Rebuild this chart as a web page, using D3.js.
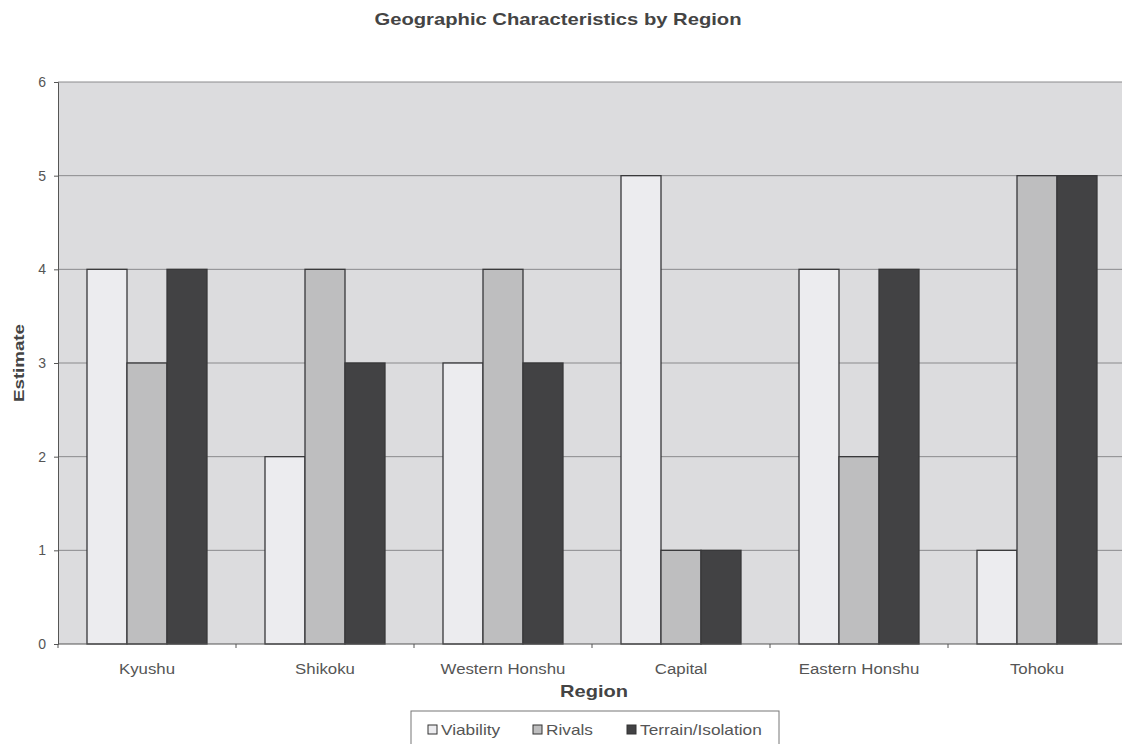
<!DOCTYPE html>
<html>
<head>
<meta charset="utf-8">
<script src="https://cdn.jsdelivr.net/npm/d3@7/dist/d3.min.js"></script>
<style>
  html, body { margin: 0; padding: 0; background: #ffffff; }
  svg { display: block; font-family: Arial, "Liberation Sans", sans-serif; }
</style>
</head>
<body>
<svg id="chart" width="1122" height="744"></svg>
<script>
// Regions and per-series estimates
const regions = ["Kyushu", "Shikoku", "Western Honshu", "Capital", "Eastern Honshu", "Tohoku"];
const seriesNames = ["Viability", "Rivals", "Terrain/Isolation"];
const viability = [4, 2, 3, 5, 4, 1];
const rivals = [3, 4, 4, 1, 2, 5];
const terrain = [4, 3, 3, 1, 4, 5];
const yTicks = [0, 1, 2, 3, 4, 5, 6];

const seriesValues = [viability, rivals, terrain];
const seriesFill = ["#ececef", "#bebebf", "#424244"];

const svg = d3.select("#chart");
const margin = { left: 58, right: -4, top: 82, bottom: 100 };
const W = 1122, H = 744;
const plotL = margin.left, plotR = W - margin.right;
const plotT = margin.top, plotB = H - margin.bottom;

// Widen text glyphs by a factor (the chart uses a broad sans face)
function widen(sel, factor) {
  sel.each(function () {
    const len = this.getComputedTextLength();
    d3.select(this).attr("textLength", len * factor).attr("lengthAdjust", "spacingAndGlyphs");
  });
}

const x = d3.scaleBand().domain(regions).range([plotL, plotR]).paddingInner(0).paddingOuter(0);
const xs = d3.scaleBand().domain(seriesNames).range([0, x.bandwidth()]).paddingOuter(0.725).paddingInner(0);
const y = d3.scaleLinear().domain([0, 6]).range([plotB, plotT]);

// Plot background
svg.append("rect")
  .attr("x", plotL).attr("y", plotT)
  .attr("width", plotR - plotL).attr("height", plotB - plotT)
  .attr("fill", "#dcdcde");

// Horizontal gridlines
svg.append("g")
  .selectAll("line")
  .data(yTicks.filter(d => d > 0))
  .join("line")
  .attr("x1", plotL).attr("x2", plotR)
  .attr("y1", d => y(d)).attr("y2", d => y(d))
  .attr("stroke", "#8a8a8c").attr("stroke-width", 1);

// Bars
const groups = svg.append("g")
  .selectAll("g")
  .data(regions)
  .join("g")
  .attr("transform", d => `translate(${x(d)},0)`);

groups.selectAll("rect")
  .data((r, i) => seriesNames.map((s, k) => ({ s, k, v: seriesValues[k][i] })))
  .join("rect")
  .attr("x", d => xs(d.s))
  .attr("y", d => y(d.v))
  .attr("width", xs.bandwidth())
  .attr("height", d => y(0) - y(d.v))
  .attr("fill", d => seriesFill[d.k])
  .attr("stroke", "#38383a")
  .attr("stroke-width", 1.3);

// Y axis
const yAxis = svg.append("g")
  .attr("transform", `translate(${plotL},0)`)
  .call(d3.axisLeft(y).tickValues(yTicks).tickFormat(d3.format("d")).tickSize(4).tickPadding(8));
yAxis.select(".domain").attr("stroke", "#555");
yAxis.selectAll(".tick line").attr("stroke", "#555");
yAxis.selectAll("text").attr("fill", "#555").style("font-size", "14px");

// X axis with ticks at category boundaries
const xAxis = svg.append("g").attr("transform", `translate(0,${plotB})`);
xAxis.append("line")
  .attr("x1", plotL).attr("x2", plotR).attr("y1", 0).attr("y2", 0)
  .attr("stroke", "#555");
xAxis.selectAll("line.tk")
  .data(regions)
  .join("line")
  .attr("class", "tk")
  .attr("x1", d => x(d)).attr("x2", d => x(d))
  .attr("y1", 0).attr("y2", 4)
  .attr("stroke", "#555");
xAxis.selectAll("text")
  .data(regions)
  .join("text")
  .attr("x", d => x(d) + x.bandwidth() / 2)
  .attr("y", 30)
  .attr("text-anchor", "middle")
  .attr("fill", "#555")
  .style("font-size", "14px")
  .text(d => d)
  .call(widen, 1.2);

// Titles
svg.append("text")
  .attr("x", 558).attr("y", 25)
  .attr("text-anchor", "middle")
  .attr("fill", "#444")
  .style("font-size", "17px").style("font-weight", "bold")
  .attr("textLength", 367).attr("lengthAdjust", "spacingAndGlyphs")
  .text("Geographic Characteristics by Region");

svg.append("text")
  .attr("x", 594).attr("y", 697)
  .attr("text-anchor", "middle")
  .attr("fill", "#444")
  .style("font-size", "17px").style("font-weight", "bold")
  .attr("textLength", 68).attr("lengthAdjust", "spacingAndGlyphs")
  .text("Region");

svg.append("text")
  .attr("transform", `translate(24,363) rotate(-90)`)
  .attr("text-anchor", "middle")
  .attr("fill", "#444")
  .style("font-size", "14px").style("font-weight", "bold")
  .attr("textLength", 78).attr("lengthAdjust", "spacingAndGlyphs")
  .text("Estimate");

// Legend
const lg = svg.append("g").attr("transform", "translate(411,711)");
lg.append("rect")
  .attr("width", 368).attr("height", 36)
  .attr("fill", "#ffffff").attr("stroke", "#777");
const legendX = [17, 122, 216];
seriesNames.forEach((s, k) => {
  lg.append("rect")
    .attr("x", legendX[k]).attr("y", 14)
    .attr("width", 9).attr("height", 9)
    .attr("fill", seriesFill[k]).attr("stroke", "#333");
  lg.append("text")
    .attr("x", legendX[k] + 13).attr("y", 24)
    .attr("fill", "#555")
    .style("font-size", "15px")
    .text(s)
    .call(widen, 1.15);
});
</script>
</body>
</html>
